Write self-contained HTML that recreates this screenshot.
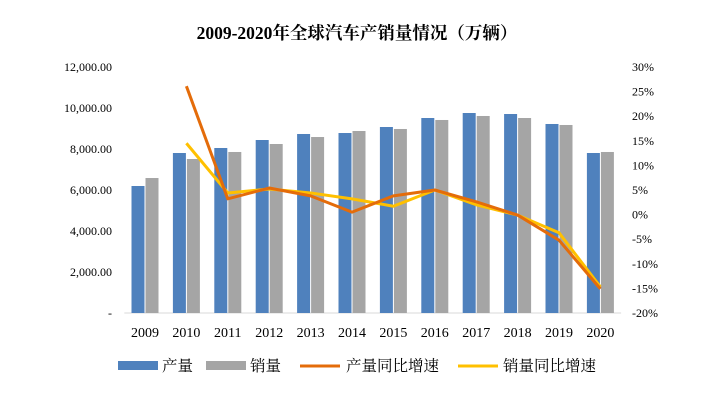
<!DOCTYPE html>
<html><head><meta charset="utf-8"><style>
body{margin:0;background:#fff;}
svg text{font-family:"Liberation Serif","Noto Serif CJK SC",serif;fill:#000;}
</style></head><body>
<svg id="chart" width="714" height="402">
<text x="357" y="39" text-anchor="middle" font-size="17.5" font-weight="bold">2009-2020年全球汽车产销量情况（万辆）</text>
<g id="axes"></g><g id="bars"></g><g id="lines"></g>
<g>
<rect x="118" y="361" width="40" height="9" fill="#4f81bd"/>
<text x="162" y="371" font-size="15.5">产量</text>
<rect x="206" y="361" width="40" height="9" fill="#a5a5a5"/>
<text x="250" y="371" font-size="15.5">销量</text>
<line x1="300" y1="366" x2="340" y2="366" stroke="#e46c0a" stroke-width="3"/>
<text x="346" y="371" font-size="15.5">产量同比增速</text>
<line x1="458" y1="366" x2="498" y2="366" stroke="#ffc000" stroke-width="3"/>
<text x="503" y="371" font-size="15.5">销量同比增速</text>
</g>
</svg>
<script>
const years=["2009","2010","2011","2012","2013","2014","2015","2016","2017","2018","2019","2020"];
const production=[6195,7805,8049,8439,8732,8780,9073,9512,9756,9707,9220,7805];
const sales=[6585,7512,7854,8244,8585,8878,8976,9415,9610,9512,9171,7854];
const prodGrowth=[null,26.1,3.2,5.4,3.8,0.5,3.8,5.0,2.6,-0.1,-5.2,-15.1];
const salesGrowth=[null,14.5,4.4,5.2,4.4,3.2,1.7,5.0,2.0,-0.1,-3.7,-14.7];
const leftTicks=[0,2000,4000,6000,8000,10000,12000];
const leftTickLabels=["-","2,000.00","4,000.00","6,000.00","8,000.00","10,000.00","12,000.00"];
const rightTicks=[-20,-15,-10,-5,0,5,10,15,20,25,30];
const NS="http://www.w3.org/2000/svg";
const x0=124.3,step=41.4,yTop=67,yBot=313;
const yL=v=>yBot-(v/12000)*(yBot-yTop);
const yR=v=>yBot-((v+20)/50)*(yBot-yTop);
const xc=i=>x0+step*(i+0.5);
function mk(t,a,p){const e=document.createElementNS(NS,t);for(const k in a)e.setAttribute(k,a[k]);p.appendChild(e);return e;}
const axes=document.getElementById('axes'),bars=document.getElementById('bars'),lines=document.getElementById('lines');
leftTicks.forEach((v,i)=>{const t=mk('text',{x:112,y:yL(v)+4,'text-anchor':'end','font-size':12},axes);t.textContent=leftTickLabels[i];

});
rightTicks.forEach(v=>{const t=mk('text',{x:632,y:yR(v)+4,'font-size':12},axes);t.textContent=v+'%';

});
const ax=mk('line',{x1:x0,x2:x0+step*12,y1:yBot,y2:yBot,stroke:'#d9d9d9'},axes);


years.forEach((y,i)=>{const t=mk('text',{x:xc(i),y:337,'text-anchor':'middle','font-size':14},axes);t.textContent=y;


const b1=mk('rect',{x:xc(i)-13.5,y:yL(production[i]),width:13,height:yBot-yL(production[i]),fill:'#4f81bd'},bars);


const b2=mk('rect',{x:xc(i)+0.5,y:yL(sales[i]),width:13,height:yBot-yL(sales[i]),fill:'#a5a5a5'},bars);

});
function line(d,c,n){const pts=d.map((v,i)=>v==null?null:xc(i)+','+yR(v)).filter(p=>p).join(' ');
const l=mk('polyline',{points:pts,fill:'none',stroke:c,'stroke-width':3,'stroke-linejoin':'round'},lines);

}
line(salesGrowth,'#ffc000','line-sales-growth');
line(prodGrowth,'#e46c0a','line-production-growth');
</script>
</body></html>
